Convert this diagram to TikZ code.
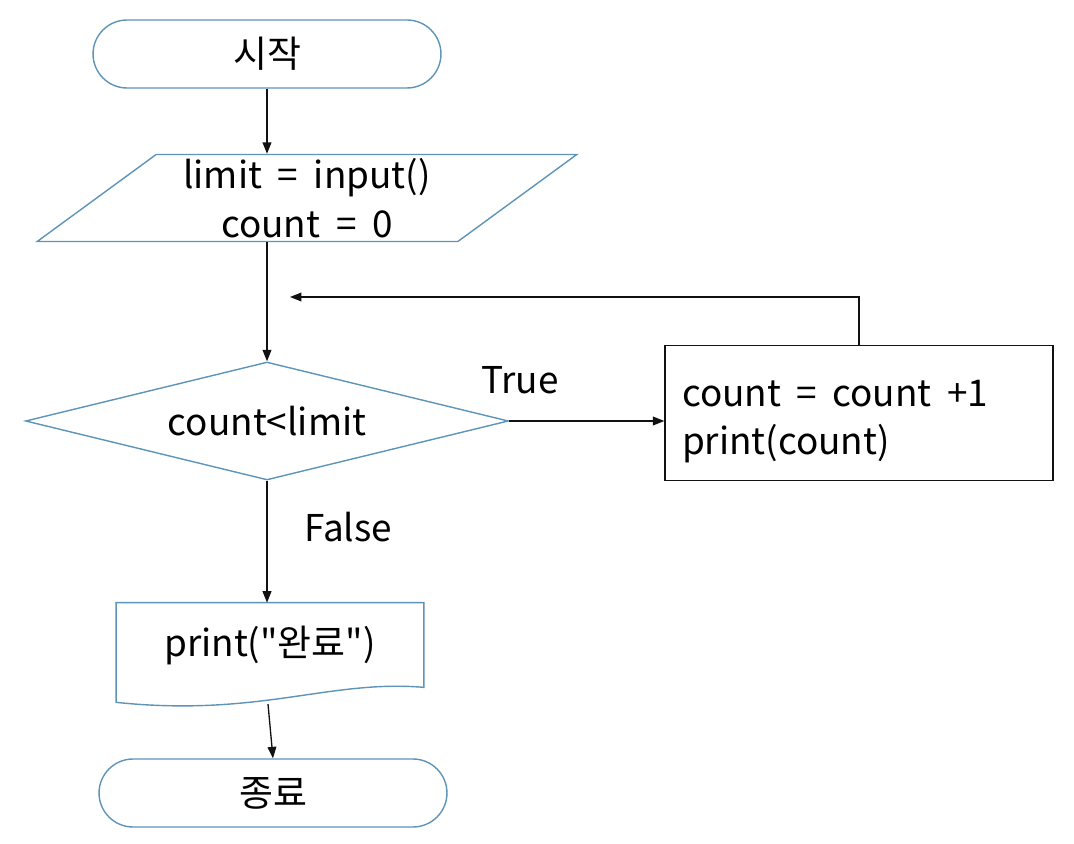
\documentclass[tikz,border=0pt]{standalone}
\usepackage{fontspec}
\setmainfont{Noto Sans CJK KR}[Ligatures=TeXOff,WordSpace=1.9]
\usetikzlibrary{arrows.meta,calc,positioning,shapes.geometric}
\definecolor{ink}{HTML}{111111}
\definecolor{edge}{HTML}{5E94B8}
\newcommand\widegap{\spaceskip=0.42em plus 0.1em\relax}

\begin{document}
\begin{tikzpicture}[x=0.02cm,y=-0.02cm,font=\fontsize{21}{27.5}\selectfont,
  term/.style={draw=edge,line width=0.8pt,rounded corners=0.68cm,minimum width=6.96cm,minimum height=1.36cm},
  io/.style={draw=edge,line width=0.8pt,trapezium,trapezium left angle=39,trapezium right angle=141,trapezium stretches=true,minimum width=10.8cm,minimum height=1.74cm,inner sep=0pt,align=center},
  cond/.style={draw=edge,line width=0.8pt,diamond,aspect=4.1,minimum width=9.66cm,minimum height=2.36cm,inner sep=0pt},
  proc/.style={draw=ink,line width=0.8pt,minimum width=7.76cm,minimum height=2.66cm,text width=7.08cm,inner sep=0.34cm,align=left},
  docbox/.style={minimum width=6.14cm,minimum height=1.68cm},
  arr/.style={draw=ink,line width=0.75pt,-{Triangle[length=6.5pt,width=5pt]}}]
\useasboundingbox (0,0) rectangle (1074,844);
\node[term] (start) at (267,54) {시작};
\node[io] (inp) at (307,198) {limit = input()\\count = 0};
\node[cond] (cmp) at (267,421) {count<limit};
\node[proc] (inc) at (859,413) {\widegap\rule{0pt}{25pt}count = count +1\\print(count)};
\node[docbox] (done) at (270,645) {print("완료")};
\node[term] (stop) at (273,793) {종료};
\node (tlab) at (520,380) {True};
\node (flab) at (348,527) {False};
% wavy bottom of the output box
\draw[edge,line width=0.8pt] (done.north west) -- (done.north east) -- (done.south east)
  .. controls ($(done.south east)+(-95,-8)$) and ($(done.south west)+(143,30)$) .. ($(done.south west)+(0,15)$) -- cycle;
\coordinate (back) at (290,297);
\coordinate (docb) at (268,704);
\draw[arr] (start.south) -- (start.south |- inp.north);
\draw[arr] (inp.south -| cmp.north) -- (cmp.north);
\draw[arr] (cmp.east) -- (cmp.east -| inc.west);
\draw[arr] (inc.north) |- (back);
\draw[arr] (cmp.south) -- (cmp.south |- done.north);
\draw[arr] (docb) -- (stop.north);
\end{tikzpicture}
\end{document}
